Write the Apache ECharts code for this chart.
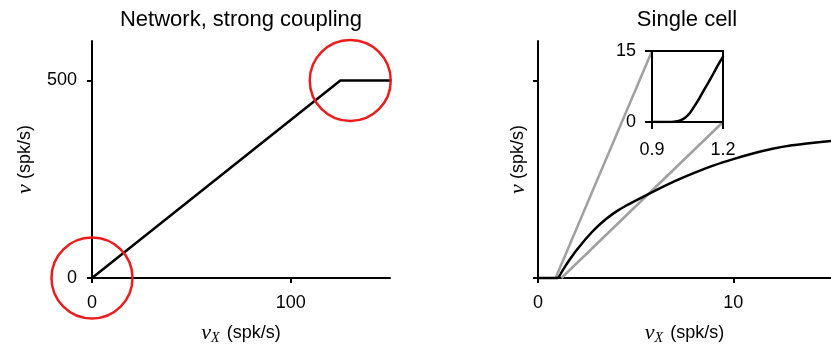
<!DOCTYPE html>
<html>
<head>
<meta charset="utf-8">
<script src="https://cdn.jsdelivr.net/npm/echarts@6/dist/echarts.min.js"></script>
<style>
html,body{margin:0;padding:0;background:#fff;}
#chart{width:831px;height:350px;}
</style>
</head>
<body>
<div id="chart"></div>
<script>
// ---- Data ----
const netTitle = 'Network, strong coupling';
const cellTitle = 'Single cell';

const netX = [0, 125, 150];
const netY = [0, 500, 500];
const circleX = [0, 130];
const circleY = [0, 500];
const netXTicks = [0, 100];
const netYTicks = [0, 500];

const cellX = [0, 1.0, 1.1, 1.2, 1.4, 1.6, 1.8, 2.0, 2.5, 3.0, 3.5, 4.0, 4.5, 5.0, 6.0, 7.0, 8.0, 9.0, 10, 11, 12, 13, 14, 15];
const cellY = [0, 0, 5, 14, 30, 45, 59, 72, 102, 128, 150, 168, 183, 196, 221, 245, 266, 285, 301, 315, 327, 336, 342, 347];
const cellXTicks = [0, 10];
const cellYTicks = [0, 500];

const insetX = [0.90, 0.95, 0.98, 1.00, 1.02, 1.04, 1.06, 1.08, 1.10, 1.12, 1.14, 1.16, 1.18, 1.20];
const insetY = [0, 0, 0.02, 0.1, 0.35, 0.9, 1.9, 3.4, 5.0, 6.8, 8.5, 10.3, 12.1, 13.8];
const insetXTicks = [0.9, 1.2];
const insetYTicks = [0, 15];

// ---- Build ----
const pairs = (xs, ys) => xs.map((x, i) => [x, ys[i]]);
const SANS = '"Liberation Sans", Arial, Helvetica, sans-serif';
const SERIF = '"Liberation Serif", "Times New Roman", serif';

const nameStyle = {
  fontSize: 18, fontFamily: SANS, color: '#000',
  rich: {
    nu: { fontFamily: SERIF, fontStyle: 'italic', fontSize: 22, color: '#000' },
    sub: { fontFamily: SERIF, fontStyle: 'italic', fontSize: 14, color: '#000', padding: [10, 2, 0, 0] }
  }
};

function valAxis(gi, min, max, ticks, opts) {
  return Object.assign({
    type: 'value', gridIndex: gi, min: min, max: max,
    splitLine: { show: false },
    axisLine: { show: true, onZero: false, lineStyle: { color: '#000', width: 2 } },
    axisTick: { show: true, customValues: ticks, length: 5, lineStyle: { color: '#000', width: 2 } },
    axisLabel: { show: true, customValues: ticks, color: '#000', fontSize: 18, fontFamily: SANS, margin: 16 }
  }, opts || {});
}

const chart = echarts.init(document.getElementById('chart'), null, { renderer: 'canvas' });

const option = {
  animation: false,
  backgroundColor: '#fff',
  grid: [
    { left: 92, top: 41, width: 298, height: 242 },
    { left: 538, top: 41, width: 298, height: 242 },
    { left: 652, top: 51, width: 71, height: 71, show: true, borderColor: '#000', borderWidth: 2, backgroundColor: 'transparent', z: 5 }
  ],
  xAxis: [
    valAxis(0, 0, 150, netXTicks, { name: '{nu|ν}{sub|X} (spk/s)', nameLocation: 'middle', nameGap: 43, nameTextStyle: nameStyle }),
    valAxis(1, 0, 15, cellXTicks, { name: '{nu|ν}{sub|X} (spk/s)', nameLocation: 'middle', nameGap: 43, nameTextStyle: nameStyle }),
    valAxis(2, 0.9, 1.2, insetXTicks, { z: 6, axisTick: { show: true, customValues: insetXTicks, length: 7, lineStyle: { color: '#000', width: 2 } }, axisLabel: { show: true, customValues: insetXTicks, color: '#000', fontSize: 18, fontFamily: SANS, margin: 19 } })
  ],
  yAxis: [
    valAxis(0, 0, 600, netYTicks, { name: '{nu|ν} (spk/s)', nameLocation: 'middle', nameGap: 56, nameTextStyle: nameStyle, axisLabel: { show: true, customValues: netYTicks, color: '#000', fontSize: 18, fontFamily: SANS, margin: 15 } }),
    valAxis(1, 0, 600, cellYTicks, { name: '{nu|ν} (spk/s)', nameLocation: 'middle', nameGap: 9, nameTextStyle: nameStyle, axisLabel: { show: false } }),
    valAxis(2, 0, 15, insetYTicks, { z: 6, axisTick: { show: true, customValues: insetYTicks, length: 7, lineStyle: { color: '#000', width: 2 } }, axisLabel: { show: true, customValues: insetYTicks, color: '#000', fontSize: 18, fontFamily: SANS, margin: 16 } })
  ],
  graphic: [
    { type: 'text', x: 241, y: 20, style: { text: netTitle, align: 'center', verticalAlign: 'middle', fontSize: 22, fontFamily: SANS, fill: '#000' } },
    { type: 'text', x: 687, y: 20, style: { text: cellTitle, align: 'center', verticalAlign: 'middle', fontSize: 22, fontFamily: SANS, fill: '#000' } }
  ],
  series: [
    { id: 'net', type: 'line', xAxisIndex: 0, yAxisIndex: 0, data: pairs(netX, netY), showSymbol: false, lineStyle: { color: '#000', width: 2.5 }, z: 3 },
    { id: 'circles', type: 'scatter', xAxisIndex: 0, yAxisIndex: 0, data: pairs(circleX, circleY), symbol: 'circle', symbolSize: 81, clip: false, itemStyle: { color: 'rgba(0,0,0,0)', borderColor: '#ec1c1c', borderWidth: 2.5, opacity: 1 }, z: 4, silent: true },
    { id: 'conn1', type: 'line', xAxisIndex: 1, yAxisIndex: 1, data: [], showSymbol: false, clip: false, lineStyle: { color: '#a0a0a0', width: 2.5 }, z: 2 },
    { id: 'conn2', type: 'line', xAxisIndex: 1, yAxisIndex: 1, data: [], showSymbol: false, clip: false, lineStyle: { color: '#a0a0a0', width: 2.5 }, z: 2 },
    { id: 'cell', type: 'line', xAxisIndex: 1, yAxisIndex: 1, data: pairs(cellX, cellY), showSymbol: false, smooth: 0.2, clip: false, lineStyle: { color: '#000', width: 2.5, join: 'round', cap: 'round' }, z: 3 },
    { id: 'inset', type: 'line', xAxisIndex: 2, yAxisIndex: 2, data: pairs(insetX, insetY), showSymbol: false, smooth: 0.4, lineStyle: { color: '#000', width: 2.5, join: 'round', cap: 'round' }, z: 7 }
  ]
};
chart.setOption(option);

// Zoom connectors: from main-panel points to inset corners
const insetXMin = insetXTicks[0], insetXMax = insetXTicks[1];
const insetYMin = insetYTicks[0], insetYMax = insetYTicks[1];
const tl = chart.convertFromPixel({ xAxisIndex: 1, yAxisIndex: 1 }, chart.convertToPixel({ xAxisIndex: 2, yAxisIndex: 2 }, [insetXMin, insetYMax]));
const br = chart.convertFromPixel({ xAxisIndex: 1, yAxisIndex: 1 }, chart.convertToPixel({ xAxisIndex: 2, yAxisIndex: 2 }, [insetXMax, insetYMin]));
chart.setOption({
  series: [
    { id: 'conn1', data: [[insetXMin, 0], tl] },
    { id: 'conn2', data: [[insetXMax, 0], br] }
  ]
});
</script>
</body>
</html>
